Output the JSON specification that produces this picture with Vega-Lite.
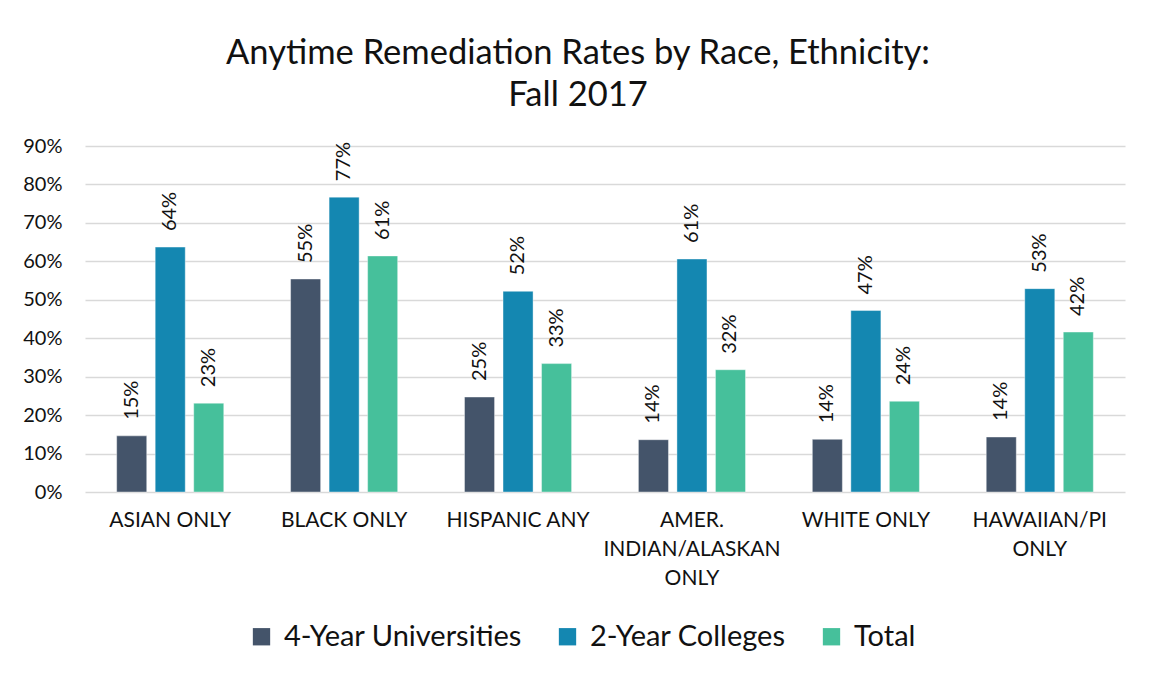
{
  "$schema": "https://vega.github.io/schema/vega-lite/v6.json",
  "autosize": {"type": "none"},
  "width": 1040,
  "height": 346,
  "padding": {"left": 85, "top": 146, "right": 26, "bottom": 188},
  "background": "white",
  "config": {"font": "Lato", "view": {"stroke": null}},
  "title": {
    "text": ["Anytime Remediation Rates by Race, Ethnicity:", "Fall 2017"],
    "fontSize": 34.5,
    "fontWeight": "normal",
    "color": "#111111",
    "anchor": "middle",
    "lineHeight": 42,
    "offset": 23,
    "dx": -27
  },
  "data": {
    "values": [
      {"group": "ASIAN ONLY", "type": "4-Year Universities", "value": 0.146},
      {"group": "ASIAN ONLY", "type": "2-Year Colleges", "value": 0.637},
      {"group": "ASIAN ONLY", "type": "Total", "value": 0.231},
      {"group": "BLACK ONLY", "type": "4-Year Universities", "value": 0.554},
      {"group": "BLACK ONLY", "type": "2-Year Colleges", "value": 0.767},
      {"group": "BLACK ONLY", "type": "Total", "value": 0.614},
      {"group": "HISPANIC ANY", "type": "4-Year Universities", "value": 0.247},
      {"group": "HISPANIC ANY", "type": "2-Year Colleges", "value": 0.522},
      {"group": "HISPANIC ANY", "type": "Total", "value": 0.334},
      {"group": "AMER. INDIAN/ALASKAN ONLY", "type": "4-Year Universities", "value": 0.136},
      {"group": "AMER. INDIAN/ALASKAN ONLY", "type": "2-Year Colleges", "value": 0.606},
      {"group": "AMER. INDIAN/ALASKAN ONLY", "type": "Total", "value": 0.318},
      {"group": "WHITE ONLY", "type": "4-Year Universities", "value": 0.137},
      {"group": "WHITE ONLY", "type": "2-Year Colleges", "value": 0.472},
      {"group": "WHITE ONLY", "type": "Total", "value": 0.236},
      {"group": "HAWAIIAN/PI ONLY", "type": "4-Year Universities", "value": 0.143},
      {"group": "HAWAIIAN/PI ONLY", "type": "2-Year Colleges", "value": 0.529},
      {"group": "HAWAIIAN/PI ONLY", "type": "Total", "value": 0.416}
    ]
  },
  "encoding": {
    "x": {
      "field": "group",
      "type": "nominal",
      "sort": ["ASIAN ONLY", "BLACK ONLY", "HISPANIC ANY", "AMER. INDIAN/ALASKAN ONLY", "WHITE ONLY", "HAWAIIAN/PI ONLY"],
      "scale": {"paddingInner": 0.34, "paddingOuter": 0.16},
      "axis": {
        "title": null,
        "labelAngle": 0,
        "labelFontSize": 21,
        "labelColor": "#111111",
        "labelPadding": 17,
        "labelLineHeight": 29,
        "labelLimit": 400,
        "labelBaseline": "top",
        "ticks": false,
        "domain": false,
        "labelExpr": "datum.value == 'AMER. INDIAN/ALASKAN ONLY' ? ['AMER.', 'INDIAN/ALASKAN', 'ONLY'] : (datum.value == 'HAWAIIAN/PI ONLY' ? ['HAWAIIAN/PI', 'ONLY'] : datum.value)"
      }
    },
    "xOffset": {
      "field": "type",
      "type": "nominal",
      "sort": ["4-Year Universities", "2-Year Colleges", "Total"],
      "scale": {"paddingInner": 0.22, "paddingOuter": 0.1}
    },
    "y": {
      "field": "value",
      "type": "quantitative",
      "scale": {"domain": [0, 0.9]},
      "axis": {
        "title": null,
        "format": ".0%",
        "values": [0, 0.1, 0.2, 0.3, 0.4, 0.5, 0.6, 0.7, 0.8, 0.9],
        "labelFontSize": 20,
        "labelColor": "#111111",
        "labelPadding": 23,
        "ticks": false,
        "domain": false,
        "gridColor": "#d9d9d9",
        "gridWidth": 1.5
      }
    }
  },
  "layer": [
    {
      "mark": {"type": "bar", "stroke": "#ffffff", "strokeOpacity": 0.4, "strokeWidth": 1},
      "encoding": {
        "color": {
          "field": "type",
          "type": "nominal",
          "sort": ["4-Year Universities", "2-Year Colleges", "Total"],
          "scale": {
            "domain": ["4-Year Universities", "2-Year Colleges", "Total"],
            "range": ["#44546a", "#1487b1", "#46c09b"]
          },
          "legend": {
            "title": null,
            "orient": "none",
            "direction": "horizontal",
            "legendX": 162,
            "legendY": 476,
            "symbolType": "square",
            "symbolSize": 300,
            "symbolStrokeWidth": 0,
            "labelFontSize": 29,
            "labelColor": "#111111",
            "labelOffset": 8,
            "columnPadding": 31,
            "labelLimit": 400
          }
        }
      }
    },
    {
      "mark": {"type": "text", "angle": -90, "align": "left", "baseline": "middle", "dx": 16, "fontSize": 20, "color": "#111111"},
      "encoding": {
        "text": {"field": "value", "type": "quantitative", "format": ".0%"}
      }
    }
  ]
}
